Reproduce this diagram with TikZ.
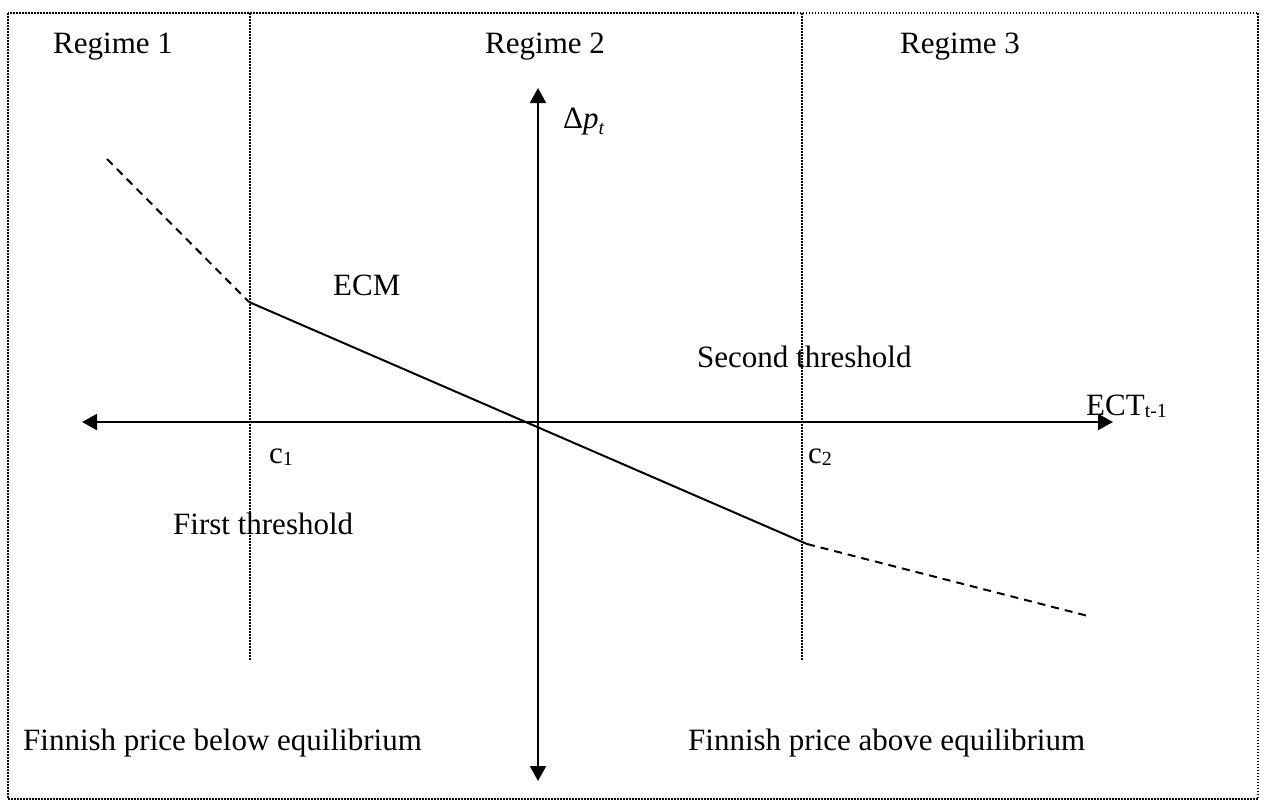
\documentclass[tikz,border=0pt]{standalone}
\usepackage{fontspec}
\setmainfont{Liberation Serif}
\usetikzlibrary{arrows.meta}
\newcommand{\mysub}[2][-2.5pt]{\raisebox{#1}{\fontsize{20}{20}\selectfont #2}}
\begin{document}
\begin{tikzpicture}[x=1pt,y=-1pt,
  txt/.style={inner sep=0pt, anchor=base west, font=\fontsize{31}{37}\selectfont},
  dotline/.style={line width=1.5pt, dash pattern=on 1.5pt off 1.5pt},
  axis/.style={line width=2pt, {Triangle[length=15pt,width=16pt]}-{Triangle[length=15pt,width=16pt]}},
  curve/.style={line width=2pt},
  dashcurve/.style={line width=2pt, dash pattern=on 8pt off 6pt}]
\useasboundingbox (0,0) rectangle (1266,803);
% border
\draw[dotline] (8,13) rectangle (1258,799);
% regime dividers
\coordinate (v1t) at (250,13); \coordinate (v1b) at (250,660);
\coordinate (v2t) at (802,13); \coordinate (v2b) at (802,660);
\draw[dotline] (v1t) -- (v1b);
\draw[dotline] (v2t) -- (v2b);
% axes
\coordinate (xl) at (82,422); \coordinate (xr) at (1113,422);
\coordinate (yt) at (538,88); \coordinate (yb) at (538,781);
\draw[axis] (xl) -- (xr);
\draw[axis] (yb) -- (yt);
\coordinate (s1) at (393,422); \coordinate (s2) at (490,422);
\draw[line width=2.8pt] (s1) -- (s2);
% adjustment line
\coordinate (d1) at (107,159);
\coordinate (k1) at (249,302);
\coordinate (k2) at (807,544);
\coordinate (d2) at (1088,616);
\draw[dashcurve] (d1) -- (k1);
\draw[curve] (k1) -- (k2);
\draw[dashcurve] (k2) -- (d2);
% labels
\node[txt] (r1) at (53,53) {Regime 1};
\node[txt] (r2) at (485,53) {Regime 2};
\node[txt] (r3) at (900,53) {Regime 3};
\node[txt] (dp) at (563,128) {Δ\textit{p}\mysub[-6pt]{\textit{t}}};
\node[txt] (ect) at (1086,415) {ECT\mysub{t-1}};
\node[txt] (ecm) at (333,295) {ECM};
\node[txt] (st) at (697,367) {Second threshold};
\node[txt] (c1) at (269,463) {c\mysub{1}};
\node[txt] (c2) at (808,463) {c\mysub{2}};
\node[txt] (ft) at (173,534) {First threshold};
\node[txt] (fb) at (23,750) {Finnish price below equilibrium};
\node[txt] (fa) at (688,750) {Finnish price above equilibrium};
\end{tikzpicture}
\end{document}
